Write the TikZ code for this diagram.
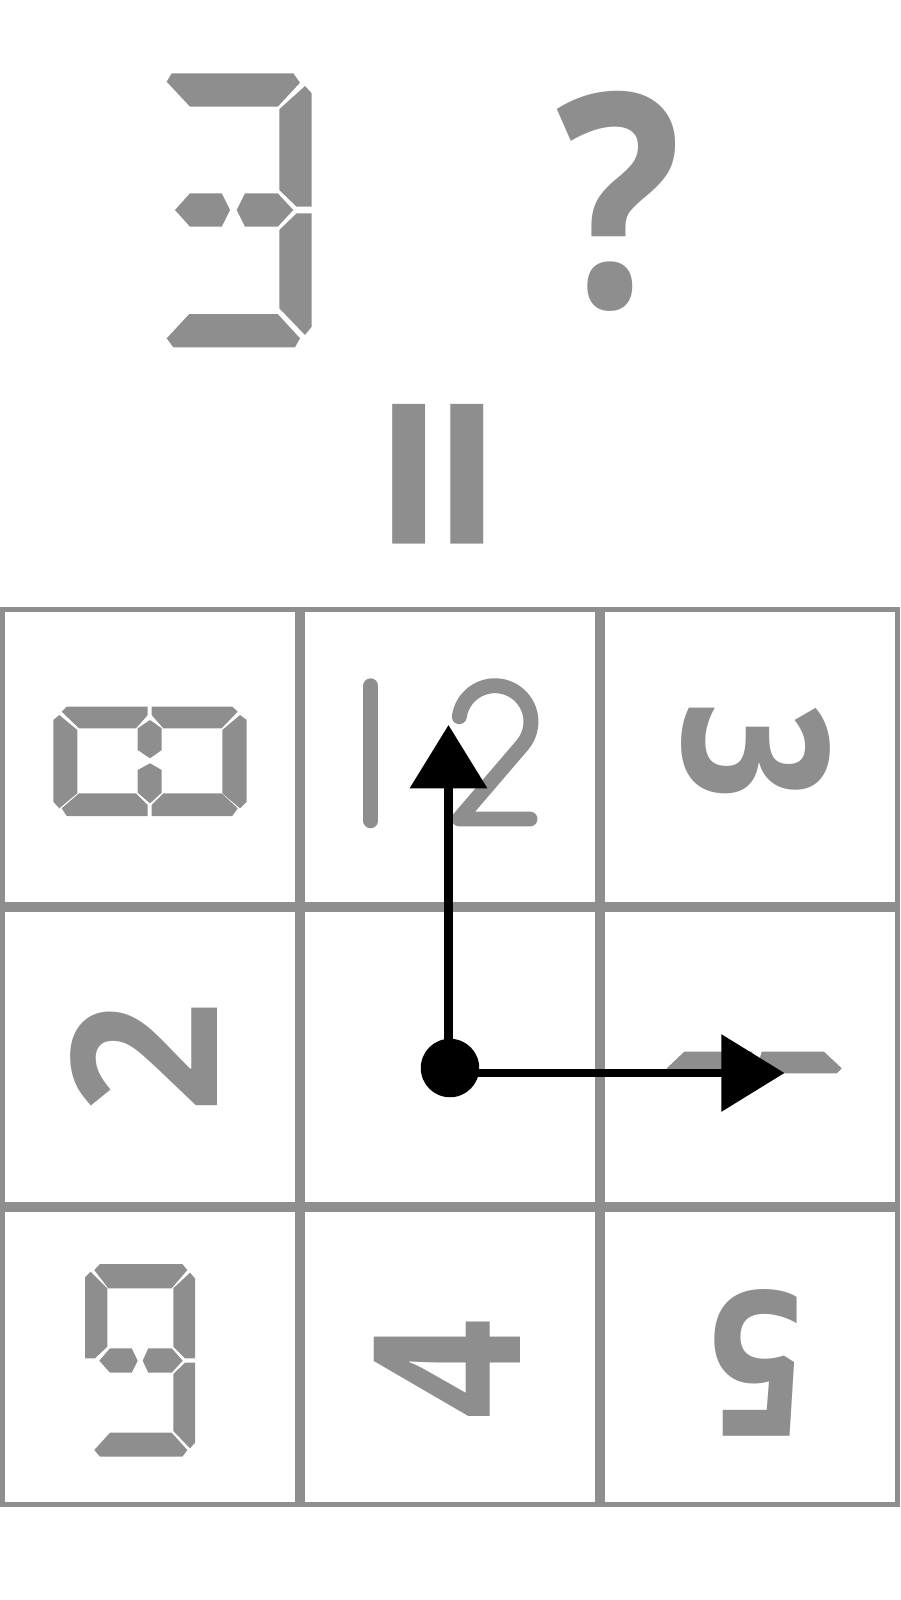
\documentclass[tikz,border=0pt]{standalone}
\usepackage{fontspec}
\newfontfamily\glyphfont{Open Sans}[BoldFont={Open Sans Bold}]
\usetikzlibrary{arrows.meta}
\definecolor{GlyphGray}{RGB}{142,142,142}

\begin{document}
\begin{tikzpicture}[x=0.02cm, y=-0.02cm,
    cell/.style={rectangle, draw=GlyphGray, line width=2.835pt,
                 minimum size=5.9cm, inner sep=0pt, outer sep=0pt},
    seg/.style={fill=GlyphGray},
    glyph/.style={text=GlyphGray, inner sep=0pt,
                  font=\glyphfont\bfseries\fontsize{119}{119}\selectfont},
    bigglyph/.style={glyph, font=\glyphfont\bfseries\fontsize{170}{170}\selectfont},
    pen/.style={draw=GlyphGray, line width=8.5pt, line cap=round, line join=round},
    arr/.style={-{Triangle[length=36pt, width=43pt]}, line width=4.8pt, black},
    dot/.style={circle, fill=black, minimum size=1.17cm, inner sep=0pt}
  ]
  \useasboundingbox (0,0) rectangle (900,1600);

  % top line: segment three, question mark, turned equals
  \fill[seg] (171.7,73.3) -- (293.3,73.3) -- (300,82.7) -- (277.7,106.7) -- (190,106.7) -- (166.7,81.7) -- cycle;
  \fill[seg] (279.3,109.3) -- (305,86) -- (311.7,93.3) -- (311.7,206.7) -- (296.7,206.7) -- (279.3,190) -- cycle;
  \fill[seg] (279.3,230) -- (296.7,213.3) -- (311.7,213.3) -- (311.7,326.7) -- (305,335) -- (279.3,308.3) -- cycle;
  \fill[seg] (166.7,338.3) -- (189.3,314) -- (277.7,314) -- (300,338.3) -- (295,347.3) -- (173.3,347.3) -- cycle;
  \fill[seg] (175,210) -- (190,193.3) -- (221.7,193.3) -- (230,210) -- (221.7,226.7) -- (190,226.7) -- cycle;
  \fill[seg] (236.7,210) -- (245,193.3) -- (277.7,193.3) -- (293.3,210) -- (277.7,226.7) -- (245,226.7) -- cycle;

  \node[bigglyph, xscale=0.88] (quest) at (619.5,201) {?};
  \node[bigglyph, rotate=90, xscale=0.965, yscale=1.03] (equal) at (469.7,474) {=};

  % grid
  \node[cell] (tl) at (150,757) {};
  \node[cell] (tm) at (450,757) {};
  \node[cell] (tr) at (750,757) {};
  \node[cell] (ml) at (150,1057) {};
  \node[cell] (mm) at (450,1057) {};
  \node[cell] (mr) at (750,1057) {};
  \node[cell] (bl) at (150,1357) {};
  \node[cell] (bm) at (450,1357) {};
  \node[cell] (br) at (750,1357) {};

  % top left: turned segment figure
  \fill[seg] (66.7,706.7) -- (147.7,706.7) -- (147.7,715) -- (136,728.3) -- (79,728.3) -- (61.7,711.7) -- cycle;
  \fill[seg] (151.7,706.7) -- (232.3,706.7) -- (237.7,711.7) -- (221.7,728.3) -- (163.3,728.3) -- (151.7,715) -- cycle;
  \fill[seg] (53.3,720) -- (59.3,715) -- (77.3,730) -- (77.3,793.3) -- (59.3,808.3) -- (53.3,801.7) -- cycle;
  \fill[seg] (240,715) -- (246.7,720) -- (246.7,801.7) -- (240,808.3) -- (222.3,793.3) -- (222.3,730) -- cycle;
  \fill[seg] (137.7,728.3) -- (150,720) -- (161.7,728.3) -- (161.7,750) -- (150,758.3) -- (137.7,750) -- cycle;
  \fill[seg] (137.7,770) -- (150,763.3) -- (161.7,770) -- (161.7,792.7) -- (150,803.3) -- (137.7,792.7) -- cycle;
  \fill[seg] (61.7,808.3) -- (79,793.3) -- (136,793.3) -- (147.7,805) -- (147.7,816) -- (66.7,816) -- cycle;
  \fill[seg] (151.7,805) -- (163.3,793.3) -- (221.7,793.3) -- (237.7,808.3) -- (232.3,816) -- (151.7,816) -- cycle;

  % top middle: thin bar and two
  \draw[pen] (370.8,685.8) -- (370.8,820.8);
  \draw[pen] (459.3,716.7) arc[start angle=188, end angle=400, radius=36]
             -- (459,819) -- (530,819);

  % glyphs
  \node[glyph, rotate=-90, xscale=0.83, yscale=0.97]  (three) at (755.5,751.4) {3};
  \node[glyph, rotate=90, xscale=0.935, yscale=0.97]  (two)   at (144.1,1057.5) {2};
  \node[glyph, rotate=90, xscale=0.84, yscale=0.98]   (four)  at (447.6,1369) {4};
  \node[glyph, rotate=180, xscale=0.825, yscale=0.97] (five)  at (756.5,1362.5) {5};

  % middle right: split bar
  \fill[seg] (684.3,1051.7) -- (752,1051.7) -- (757,1068.3) -- (752,1073.3) -- (671.7,1073.3) -- (666.7,1068.3) -- cycle;
  \fill[seg] (761.7,1051.7) -- (824,1051.7) -- (841.7,1068.3) -- (836.7,1073.3) -- (763,1073.3) -- (757,1068.3) -- cycle;

  % bottom left: segment nine
  \fill[seg] (94.3,1270) -- (100,1264) -- (182.3,1264) -- (187.3,1270) -- (171.7,1288.3) -- (108.3,1288.3) -- cycle;
  \fill[seg] (85,1277.3) -- (90.7,1271.7) -- (107.3,1288.3) -- (107.3,1346.7) -- (95,1358.3) -- (85,1358.3) -- cycle;
  \fill[seg] (173.3,1288.3) -- (190,1272.7) -- (195,1278.3) -- (195,1358.3) -- (185,1358.3) -- (173.3,1346.7) -- cycle;
  \fill[seg] (99.3,1360.7) -- (110,1348.3) -- (131.7,1348.3) -- (137.7,1360.7) -- (131.7,1372.7) -- (110,1372.7) -- cycle;
  \fill[seg] (142.7,1360.7) -- (148.3,1348.3) -- (171.7,1348.3) -- (182.7,1360.7) -- (171.7,1372.7) -- (148.3,1372.7) -- cycle;
  \fill[seg] (173.3,1374) -- (185,1362.7) -- (195,1362.7) -- (195,1442.7) -- (190,1448.3) -- (173.3,1431) -- cycle;
  \fill[seg] (94.3,1450) -- (110,1432.7) -- (171.7,1432.7) -- (187.3,1450) -- (182.3,1456.7) -- (100,1456.7) -- cycle;

  % axes
  \coordinate (o) at (448.5,1073);
  \coordinate (ytip) at (448.5,725);
  \coordinate (xtip) at (784.5,1073);
  \draw[arr] (o) -- (ytip);
  \draw[arr] (o) -- (xtip);
  \node[dot] (org) at (450,1068) {};
\end{tikzpicture}
\end{document}
